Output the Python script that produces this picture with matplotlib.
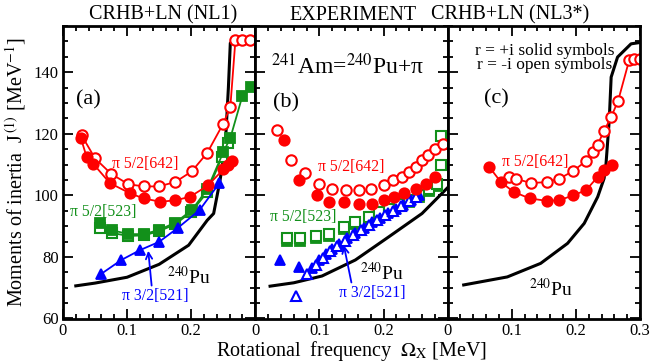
import matplotlib
matplotlib.use("Agg")
import matplotlib.pyplot as plt
from matplotlib.ticker import MultipleLocator, FuncFormatter

plt.rcParams['font.family'] = ['Liberation Serif', 'DejaVu Serif']
plt.rcParams['mathtext.fontset'] = 'stix'

RED = '#ff0000'
GREEN = '#12901a'
BLUE = '#0000ff'

# ---- panel (a): CRHB+LN (NL1)
a_pu_w = [0.02, 0.05, 0.10, 0.15, 0.196, 0.225, 0.235, 0.245, 0.253, 0.258, 0.261, 0.28, 0.30]
a_pu_j = [70.6, 71.5, 73.4, 77.6, 83.8, 91.9, 94.1, 104.9, 115.7, 135.0, 149.5, 149.6, 149.7]

a_642p_w = [0.028, 0.037, 0.047, 0.073, 0.105, 0.126, 0.152, 0.175, 0.198, 0.226, 0.25, 0.258, 0.263]
a_642p_j = [118.5, 112.4, 110.3, 104.0, 100.6, 99.0, 97.9, 98.4, 99.5, 103.2, 108.4, 110.0, 111.0]
a_642m_w = [0.029, 0.05, 0.075, 0.102, 0.126, 0.149, 0.175, 0.201, 0.225, 0.25, 0.261, 0.269, 0.28, 0.292]
a_642m_j = [119.5, 112.0, 107.0, 103.6, 102.9, 102.9, 104.3, 107.8, 113.8, 123.3, 128.7, 150.5, 150.6, 150.6]

a_523p_w = [0.058, 0.076, 0.102, 0.126, 0.149, 0.175, 0.201, 0.225, 0.25, 0.261, 0.28, 0.294]
a_523p_j = [90.9, 88.7, 87.4, 87.4, 88.7, 91.1, 95.2, 102.0, 114.0, 118.6, 132.4, 135.2]
a_523m_w = [0.058, 0.076, 0.102, 0.126, 0.149, 0.175, 0.2, 0.225, 0.248, 0.258]
a_523m_j = [89.5, 87.8, 86.8, 87.0, 88.3, 90.6, 94.6, 101.0, 112.5, 117.0]

a_521_w = [0.059, 0.091, 0.12, 0.15, 0.179, 0.213, 0.244]
a_521_j = [74.4, 79.0, 82.2, 84.9, 89.4, 95.2, 104.0]

# ---- panel (b): experiment 241Am
b_pu_w = [0.023, 0.06, 0.104, 0.156, 0.208, 0.26, 0.30]
b_pu_j = [70.5, 71.6, 73.8, 79.0, 86.5, 94.1, 102.5]

b_642p_w = [0.044, 0.068, 0.096, 0.115, 0.138, 0.162, 0.182, 0.20, 0.216, 0.232, 0.25, 0.266, 0.281]
b_642p_j = [117.9, 104.9, 100.0, 97.9, 97.9, 97.3, 97.3, 98.4, 99.5, 100.6, 102.2, 103.8, 106.0]
b_642m_w = [0.034, 0.055, 0.078, 0.10, 0.12, 0.141, 0.162, 0.18, 0.20, 0.215, 0.228, 0.24, 0.25, 0.26, 0.27, 0.281, 0.292]
b_642m_j = [121.1, 111.4, 107.1, 103.8, 102.2, 101.7, 101.7, 102.2, 103.3, 104.9, 106.0, 107.5, 109.2, 111.4, 113.0, 115.2, 116.8]

b_523p_w = [0.05, 0.07, 0.094, 0.115, 0.138, 0.156, 0.177, 0.193, 0.208, 0.224, 0.24, 0.255, 0.271, 0.284]
b_523p_j = [85.2, 85.3, 86.0, 86.9, 89.0, 90.6, 92.2, 93.8, 95.0, 96.6, 97.7, 99.3, 101.4, 103.0]
b_523m_w = [0.05, 0.07, 0.094, 0.115, 0.138, 0.156, 0.177, 0.193, 0.208, 0.224, 0.24, 0.255, 0.271, 0.284, 0.289, 0.289]
b_523m_j = [86.0, 86.0, 86.8, 87.6, 89.8, 91.4, 93.0, 94.6, 95.7, 97.3, 98.4, 100.0, 102.2, 103.8, 109.8, 119.3]

b_521p_w = [0.039, 0.068, 0.088, 0.10, 0.11, 0.12, 0.13, 0.143, 0.156, 0.169, 0.182, 0.195, 0.207, 0.219, 0.231, 0.243, 0.255]
b_521p_j = [79.0, 76.8, 76.5, 79.0, 81.0, 82.6, 84.2, 86.0, 87.8, 89.5, 91.2, 92.8, 94.3, 95.6, 97.0, 98.6, 100.0]
b_521m_w = [0.063, 0.08, 0.095, 0.105, 0.117, 0.128, 0.14, 0.152, 0.165, 0.178, 0.19, 0.203, 0.215, 0.227, 0.24, 0.25]
b_521m_j = [67.3, 74.6, 77.5, 79.8, 81.8, 83.5, 85.3, 87.0, 88.8, 90.5, 92.0, 93.6, 95.0, 96.5, 98.0, 99.3]

# ---- panel (c): CRHB+LN (NL3*)
c_pu_w = [0.025, 0.093, 0.145, 0.187, 0.213, 0.234, 0.244, 0.247, 0.252, 0.255, 0.265, 0.286, 0.302]
c_pu_j = [70.9, 73.5, 77.9, 84.4, 90.9, 99.5, 105.5, 110.3, 124.3, 138.4, 144.9, 149.2, 149.7]

c_642p_w = [0.065, 0.083, 0.103, 0.128, 0.155, 0.174, 0.196, 0.216, 0.234, 0.244, 0.257]
c_642p_j = [109.2, 104.3, 101.1, 99.0, 98.2, 98.4, 100.0, 101.7, 106.0, 108.1, 110.0]
c_642m_w = [0.096, 0.106, 0.13, 0.155, 0.174, 0.195, 0.215, 0.226, 0.234, 0.244, 0.255, 0.266, 0.283, 0.291, 0.30]
c_642m_j = [106.0, 105.4, 104.0, 104.3, 105.4, 107.8, 111.0, 114.0, 116.5, 121.0, 125.4, 130.8, 143.8, 144.3, 144.3]

titles = ['CRHB+LN (NL1)', 'EXPERIMENT', 'CRHB+LN (NL3*)']

fig = plt.figure(figsize=(6.54, 3.64), dpi=100)
axs = fig.subplots(1, 3, sharey=True, gridspec_kw=dict(wspace=0))
fig.subplots_adjust(left=0.0963, right=0.9786, bottom=0.125, top=0.9286)

ms_c = 7.5
ms_s = 6.5
ms_t = 7.5


def solid(ax, w, j, c, m, ms, line=True):
    ax.plot(w, j, color=c, lw=1.3 if line else 0, marker=m, ms=ms,
            mfc=c, mec=c, mew=1.3)


def hollow(ax, w, j, c, m, ms, line=True):
    ax.plot(w, j, color=c, lw=1.3 if line else 0, marker=m, ms=ms,
            mfc='white', mec=c, mew=1.5)


# (a)
ax = axs[0]
ax.plot(a_pu_w, a_pu_j, color='black', lw=2.2)
hollow(ax, a_523m_w, a_523m_j, GREEN, 's', ms_s)
solid(ax, a_523p_w, a_523p_j, GREEN, 's', ms_s)
solid(ax, a_521_w, a_521_j, BLUE, '^', ms_t)
hollow(ax, a_642m_w, a_642m_j, RED, 'o', ms_c)
solid(ax, a_642p_w, a_642p_j, RED, 'o', ms_c)

# (b)
ax = axs[1]
ax.plot(b_pu_w, b_pu_j, color='black', lw=2.2)
solid(ax, b_523p_w, b_523p_j, GREEN, 's', ms_s, line=False)
hollow(ax, b_523m_w, b_523m_j, GREEN, 's', ms_s, line=False)
solid(ax, b_521p_w, b_521p_j, BLUE, '^', ms_t, line=False)
hollow(ax, b_521m_w, b_521m_j, BLUE, '^', ms_t, line=False)
hollow(ax, b_642m_w, b_642m_j, RED, 'o', ms_c, line=False)
solid(ax, b_642p_w, b_642p_j, RED, 'o', ms_c, line=False)

# (c)
ax = axs[2]
ax.plot(c_pu_w, c_pu_j, color='black', lw=2.2)
hollow(ax, c_642m_w, c_642m_j, RED, 'o', ms_c)
solid(ax, c_642p_w, c_642p_j, RED, 'o', ms_c)

fmt = FuncFormatter(lambda v, p: '0' if abs(v) < 1e-9 else ('%.1f' % v))
for i, ax in enumerate(axs):
    ax.set_xlim(0, 0.3)
    ax.set_ylim(60, 155)
    ax.xaxis.set_major_locator(MultipleLocator(0.1))
    ax.xaxis.set_minor_locator(MultipleLocator(0.02))
    ax.yaxis.set_major_locator(MultipleLocator(20))
    ax.yaxis.set_minor_locator(MultipleLocator(5))
    ax.xaxis.set_major_formatter(fmt)
    ax.tick_params(which='both', direction='in', top=True, right=True,
                   labelsize=12, width=1.3, pad=3)
    ax.tick_params(which='major', length=7)
    ax.tick_params(which='minor', length=3.5)
    for s in ax.spines.values():
        s.set_linewidth(2)
    if i < 2:
        ax.set_xticks([0, 0.1, 0.2])
    else:
        ax.set_xticks([0, 0.1, 0.2, 0.3])

axs[0].set_ylabel(r'Moments of inertia  J$^{\,(1)}$ [MeV$^{-1}$]', fontsize=14.5, labelpad=4)
axs[1].set_xlabel(r'Rotational  frequency  $\Omega_{\mathrm{X}}$ [MeV]', fontsize=14.5, labelpad=0)

fig.text(163 / 654, 1 - 15 / 364, titles[0], ha='center', va='center', fontsize=14.5)
fig.text(353 / 654, 1 - 15 / 364, titles[1], ha='center', va='center', fontsize=14.5)
fig.text(510 / 654, 1 - 15 / 364, titles[2], ha='center', va='center', fontsize=14.5)

# labels (a)
ax = axs[0]
ax.text(0.02, 131, '(a)', fontsize=16, va='center')
ax.text(0.077, 110.3, 'π 5/2[642]', color=RED, fontsize=11.3, va='center')
ax.text(0.011, 94.6, 'π 5/2[523]', color=GREEN, fontsize=11.3, va='center')
ax.text(0.163, 73.5, r'$^{240}$Pu', fontsize=14, va='center')
ax.annotate('π 3/2[521]', xy=(0.133, 82.0), xytext=(0.092, 67.2), color=BLUE,
            fontsize=11.3, va='center',
            arrowprops=dict(arrowstyle='->', color=BLUE, lw=1.3,
                            shrinkA=0, shrinkB=0, relpos=(0.45, 1.0)))

# labels (b)
ax = axs[1]
ax.text(0.025, 142, r'$^{241}$Am=$^{240}$Pu+π', fontsize=17, va='center')
ax.text(0.028, 130, '(b)', fontsize=16, va='center')
ax.text(0.097, 109.2, 'π 5/2[642]', color=RED, fontsize=11.3, va='center')
ax.text(0.023, 93.0, 'π 5/2[523]', color=GREEN, fontsize=11.3, va='center')
ax.text(0.164, 74.6, r'$^{240}$Pu', fontsize=14, va='center')
ax.annotate('π 3/2[521]', xy=(0.138, 83.8), xytext=(0.13, 68.2), color=BLUE,
            fontsize=11.3, va='center',
            arrowprops=dict(arrowstyle='->', color=BLUE, lw=1.3,
                            shrinkA=0, shrinkB=0, relpos=(0.2, 1.0)))

# labels (c)
ax = axs[2]
ax.text(0.151, 147, 'r = +i solid symbols', fontsize=12.5, ha='center', va='center')
ax.text(0.151, 142.2, 'r = -i open symbols', fontsize=12.5, ha='center', va='center')
ax.text(0.057, 131.4, '(c)', fontsize=16, va='center')
ax.text(0.085, 110.8, 'π 5/2[642]', color=RED, fontsize=11.3, va='center')
ax.text(0.127, 69.5, r'$^{240}$Pu', fontsize=14, va='center')

fig.savefig('out.png', dpi=100)
